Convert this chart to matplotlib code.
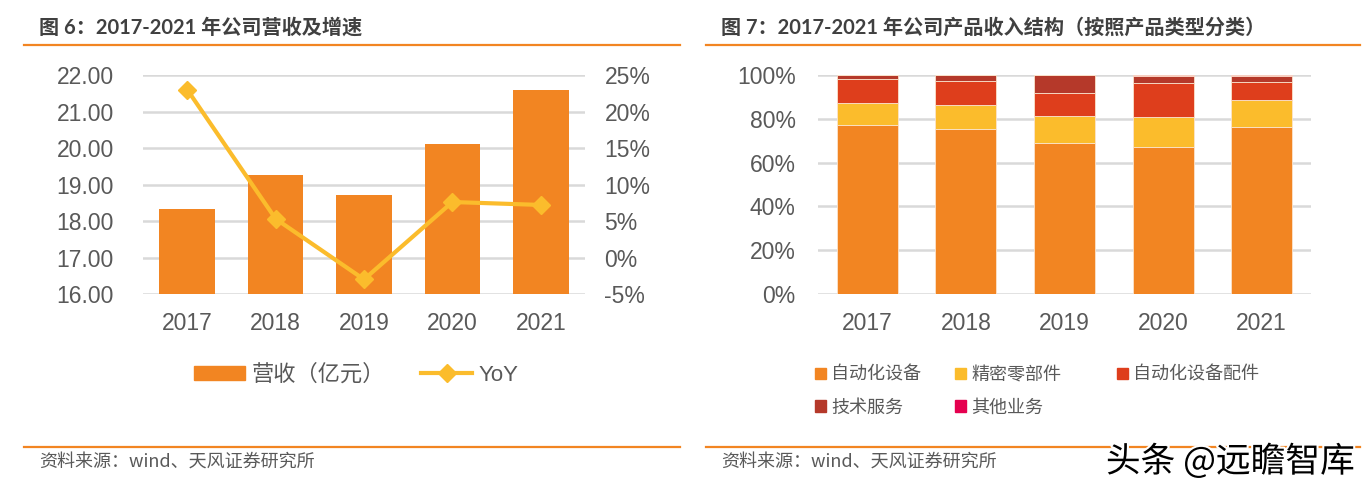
import numpy as np
import matplotlib.pyplot as plt
import matplotlib.patheffects as pe
from matplotlib.patches import Patch
from matplotlib.lines import Line2D

plt.rcParams['font.family'] = ['Liberation Sans', 'Noto Sans CJK SC', 'DejaVu Sans']

years = ['2017', '2018', '2019', '2020', '2021']

# 图6: revenue (亿元) and YoY growth (%)
revenue = [18.32, 19.27, 18.70, 20.12, 21.60]
yoy = [23.0, 5.3, -3.0, 7.6, 7.2]

# 图7: revenue structure by product type (%)
segments = ['自动化设备', '精密零部件', '自动化设备配件', '技术服务', '其他业务']
auto_equip = [77.1, 75.4, 68.9, 67.2, 76.2]
precision_parts = [9.9, 11.0, 12.2, 13.4, 12.3]
equip_accessories = [11.0, 11.0, 10.5, 15.6, 8.4]
tech_service = [1.8, 2.4, 8.3, 3.3, 2.6]
other_business = [0.2, 0.2, 0.1, 0.5, 0.5]

W, H = 1368, 486
ORANGE = '#F28522'
YELLOW = '#FBBC2C'
RED = '#DE3E1C'
DARKRED = '#B5392A'
MAGENTA = '#E5004F'
TXT = '#595959'
GRID = '#D9D9D9'
seg_colors = [ORANGE, YELLOW, RED, DARKRED, MAGENTA]


def fx(px):
    return px / W


def fy(py):
    return 1 - py / H


def axes_px(fig, left, top, right, bottom):
    return fig.add_axes([fx(left), fy(bottom), (right - left) / W, (bottom - top) / H])


def style_axes(ax):
    for s in ax.spines.values():
        s.set_visible(False)
    ax.tick_params(axis='both', length=0, colors=TXT, labelsize=16.5)
    ax.yaxis.grid(True, color=GRID, linewidth=1.8)
    ax.set_axisbelow(True)


fig = plt.figure(figsize=(W / 100, H / 100), dpi=100)

# frame lines and titles
for x0, x1 in [(24, 680), (706, 1360)]:
    fig.add_artist(Line2D([fx(x0), fx(x1)], [fy(45), fy(45)], color=ORANGE, lw=1.6))
    fig.add_artist(Line2D([fx(x0), fx(x1)], [fy(447), fy(447)], color=ORANGE, lw=1.6))

title_font = ['Lato', 'Noto Sans CJK SC']
fig.text(fx(39), fy(28), '图 6：2017-2021 年公司营收及增速', family=title_font,
         fontsize=14.5, fontweight='bold', color='#404040', va='center')
fig.text(fx(721), fy(28), '图 7：2017-2021 年公司产品收入结构（按照产品类型分类）', family=title_font,
         fontsize=14.5, fontweight='bold', color='#404040', va='center')
for x0 in [39, 721]:
    fig.text(fx(x0), fy(463), '资料来源：wind、天风证券研究所', family=['Noto Sans CJK SC'],
             fontsize=13, color=TXT, va='center')

# ---- left chart: revenue bars + YoY line
x = np.arange(len(years))
ax1 = axes_px(fig, 143, 75, 585, 294)
style_axes(ax1)
bars = ax1.bar(x, revenue, width=0.63, color=ORANGE, bottom=0)
ax1.set_ylim(16, 22)
ax1.set_yticks(np.arange(16, 22.01, 1))
ax1.set_yticklabels(['%.2f' % v for v in np.arange(16, 22.01, 1)])
ax1.set_xlim(-0.5, len(years) - 0.5)
ax1.set_xticks(x)
ax1.set_xticklabels(years)
ax1.tick_params(axis='x', pad=13)
ax1.tick_params(axis='y', pad=21)

ax2 = ax1.twinx()
for s in ax2.spines.values():
    s.set_visible(False)
line, = ax2.plot(x, yoy, color=YELLOW, lw=3, marker='D', markersize=9, zorder=5)
ax2.set_ylim(-5, 25)
ax2.set_yticks(np.arange(-5, 26, 5))
ax2.set_yticklabels(['%d%%' % v for v in np.arange(-5, 26, 5)])
ax2.tick_params(axis='y', length=0, colors=TXT, labelsize=16.5, pad=14)
for lab in ax2.get_yticklabels():
    lab.set_family(['Liberation Sans Narrow', 'Liberation Sans'])

leg_font = {'family': ['Liberation Sans', 'Noto Sans CJK SC'], 'size': 16}
fig.legend([Patch(color=ORANGE), Line2D([], [], color=YELLOW, lw=3, marker='D', markersize=9)],
           ['营收（亿元）', 'YoY'], loc='center left', bbox_to_anchor=(fx(183), fy(375)),
           ncol=2, frameon=False, prop=leg_font, handlelength=2.3, handleheight=0.6,
           handletextpad=0.3, columnspacing=1.6, labelcolor=TXT, borderpad=0)

# ---- right chart: stacked structure
ax3 = axes_px(fig, 818, 75, 1311, 294)
style_axes(ax3)
bottom = np.zeros(len(years))
for name, vals, col in zip(segments,
                           [auto_equip, precision_parts, equip_accessories, tech_service, other_business],
                           seg_colors):
    ax3.bar(x, vals, width=0.62, bottom=bottom, color=col, label=name,
            edgecolor='#FBE3CC', linewidth=0.6)
    bottom += np.array(vals)
ax3.set_ylim(0, 100)
ax3.set_yticks(np.arange(0, 101, 20))
ax3.set_yticklabels(['%d%%' % v for v in np.arange(0, 101, 20)])
ax3.set_xlim(-0.5, len(years) - 0.5)
ax3.set_xticks(x)
ax3.set_xticklabels(years)
ax3.tick_params(axis='x', pad=13)
ax3.tick_params(axis='y', pad=16)

# legend in three columns, positioned like the original
seg_font = {'family': ['Noto Sans CJK SC'], 'size': 13}
columns = [([0, 3], 806), ([1, 4], 946), ([2], 1108)]
for idx, xpos in columns:
    fig.legend([Patch(color=seg_colors[i]) for i in idx], [segments[i] for i in idx],
               loc='upper left', bbox_to_anchor=(fx(xpos), fy(357)), frameon=False,
               prop=seg_font, handlelength=0.6, handleheight=0.6, handletextpad=0.3,
               labelspacing=0.8, labelcolor=TXT, borderpad=0)

# watermark
fig.text(fx(1355), fy(462), '头条 @远瞻智库', family=['Noto Sans CJK SC'], fontsize=25,
         color='black', ha='right', va='center',
         path_effects=[pe.withStroke(linewidth=3, foreground='white')])

fig.savefig('out.png', dpi=100)
